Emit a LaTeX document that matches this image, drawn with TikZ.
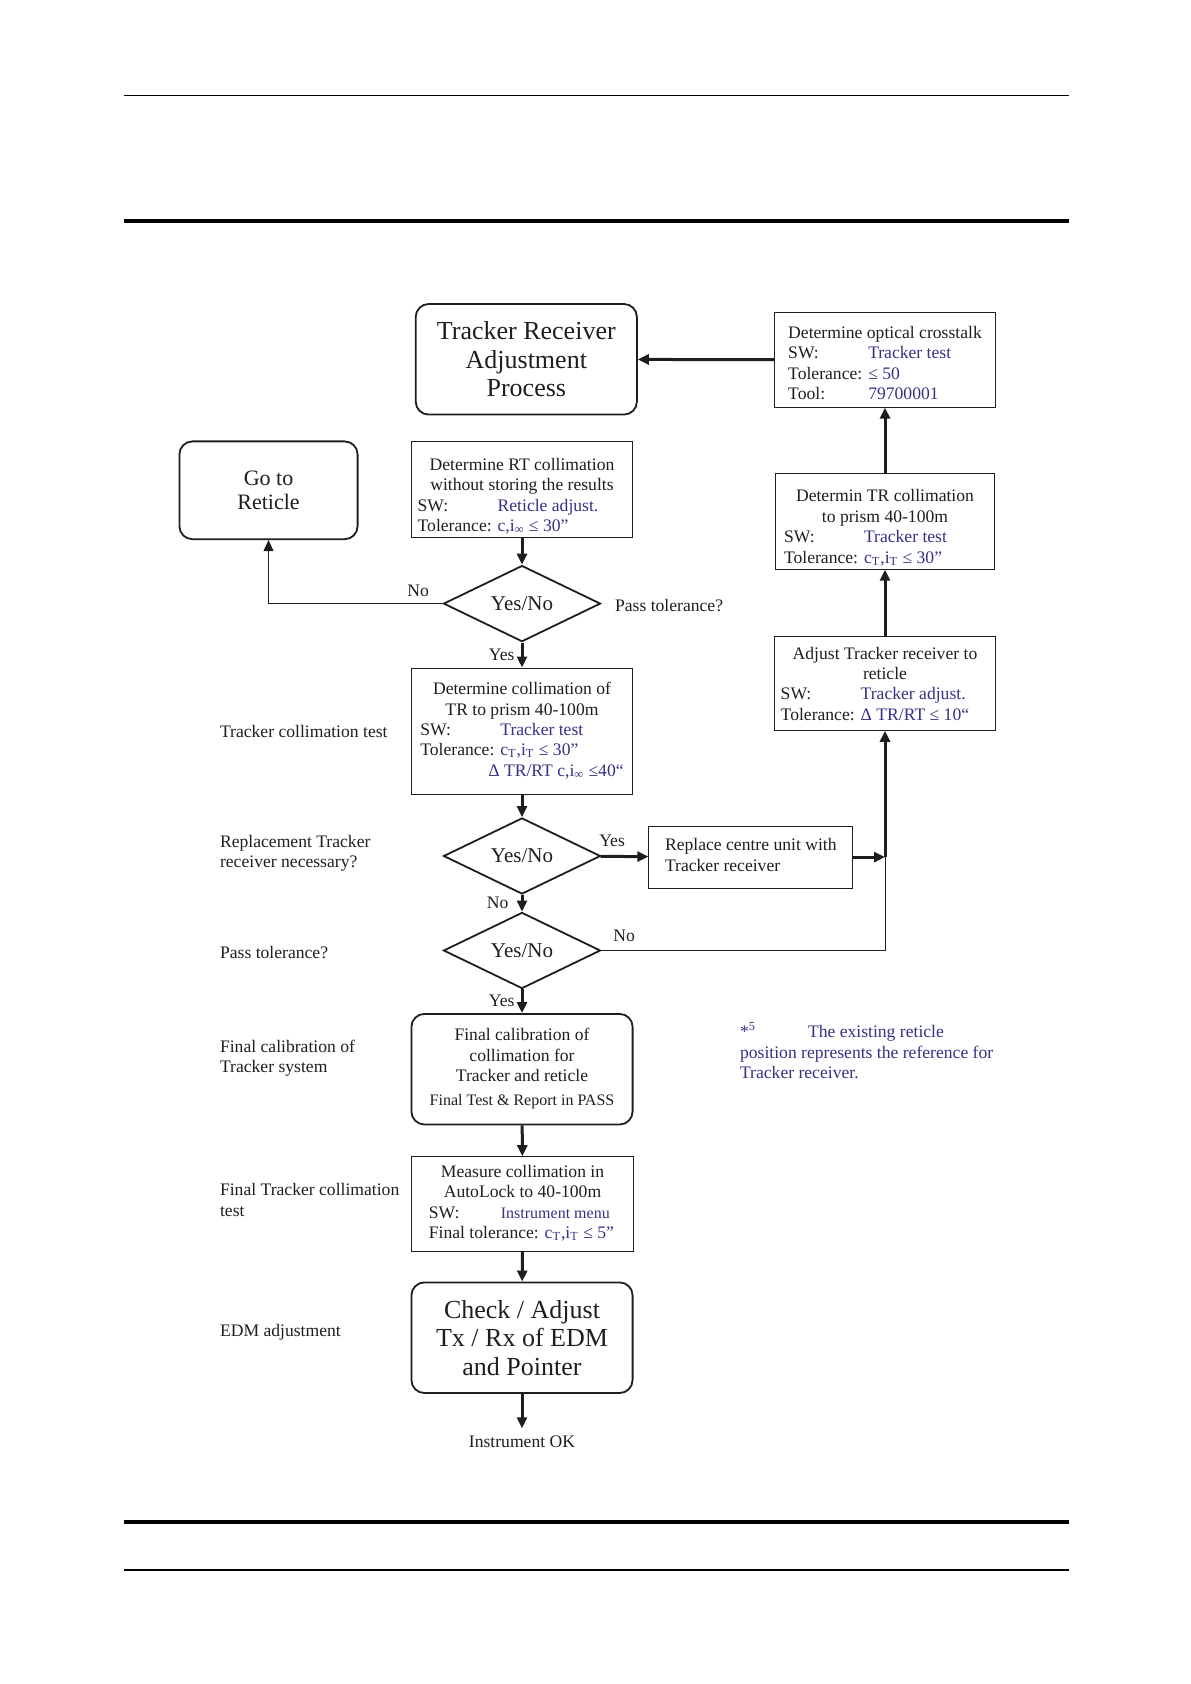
\documentclass[tikz,border=0pt]{standalone}
\usepackage{fontspec}
\setmainfont{Liberation Serif}
\usetikzlibrary{shapes.geometric,arrows.meta}

\definecolor{ink}{RGB}{30,30,30}
\definecolor{swblue}{RGB}{50,50,135}
\newcommand\bodyfont{\fontsize{8.8}{10.2}\selectfont}
\newcommand\bigfont{\fontsize{13}{14.2}\selectfont}
\newcommand\bl[1]{\textcolor{swblue}{#1}}
\newcommand\lab[1]{\makebox[40pt][l]{#1}}
\newcommand\ctr[1]{\multicolumn{1}{c}{#1}}
\newcommand\cT{c\textsubscript{T},i\textsubscript{T}}
% tabular with some extra room on top, so the lines sit a bit lower
\newcommand\boxtext[2]{\raisebox{0pt}[\dimexpr\height+#1\relax][\depth]{\begin{tabular}{@{}l@{}}#2\end{tabular}}}

\begin{document}
\begin{tikzpicture}[x=0.5pt,y=-0.5pt,
    every node/.style={font=\bodyfont,text=ink},
    box/.style={draw=ink,line width=0.5pt,inner sep=0pt,minimum width=110.6pt},
    rbox/.style={draw=ink,line width=0.9pt,rounded corners=6.5pt,inner sep=0pt,minimum width=110.6pt},
    decision/.style={diamond,draw=ink,line width=0.9pt,inner sep=0pt,minimum width=78.5pt,minimum height=31pt,font=\fontsize{10.5}{12}\selectfont},
    flow/.style={draw=ink,line width=1.5pt,-{Triangle[length=5.5pt,width=5pt]}},
    noline/.style={draw=ink,line width=0.5pt},
    lbl/.style={inner sep=1pt}]
	\useasboundingbox (0,0) rectangle (1190,1684);
	% page rules
	\draw[line width=0.8pt] (123.5,95.6) -- (1068.6,95.6);
	\draw[line width=2pt] (123.5,221.2) -- (1068.6,221.2);
	\draw[line width=2pt] (123.5,1521.9) -- (1068.6,1521.9);
	\draw[line width=0.8pt] (123.5,1570.2) -- (1068.6,1570.2);
	% main column
	\node[rbox,minimum height=55.3pt,font=\bigfont,align=center] (title) at (526.3,359.3) {Tracker Receiver\\Adjustment\\Process};
	\node[rbox,minimum width=89.1pt,minimum height=48.9pt,font=\fontsize{11}{12.4}\selectfont,align=center] (goto) at (268.5,490.3) {Go to\\Reticle};
	\node[box,minimum height=47.3pt] (rtcol) at (522,489.8) {\boxtext{7pt}{\ctr{Determine RT collimation}\\ \ctr{without storing the results}\\ \lab{SW:}\bl{Reticle adjust.}\\ \lab{Tolerance:}\bl{c,i\textsubscript{∞} ≤ 30”}}};
	\node[decision] (d1) at (522,603.6) {Yes/No};
	\node[anchor=west] (passq) at (608,605.7) {Pass tolerance?};
	\node[box,minimum height=63.4pt] (tcoll) at (522,731.4) {\boxtext{0pt}{\ctr{Determine collimation of}\\ \ctr{TR to prism 40-100m}\\ \lab{SW:}\bl{Tracker test}\\ \lab{Tolerance:}\bl{\cT{} ≤ 30”}\\ \hspace*{34pt}\bl{Δ TR/RT c,i\textsubscript{∞} ≤40“}}};
	\node[decision] (d2) at (522,856) {Yes/No};
	\node[box,minimum width=102pt,minimum height=31.1pt] (repl) at (750.8,857.1) {\boxtext{0pt}{Replace centre unit with\\Tracker receiver}};
	\node[decision] (d3) at (522,950.5) {Yes/No};
	\node[rbox,minimum height=55.3pt] (final) at (522,1069.2) {\begin{tabular}{@{}c@{}}Final calibration of\\collimation for\\Tracker and reticle\\[2pt]{\fontsize{8}{9.5}\selectfont Final Test \& Report in PASS}\end{tabular}};
	\node[box,minimum height=47.3pt] (meas) at (522.5,1204) {\boxtext{0pt}{\ctr{Measure collimation in}\\ \ctr{AutoLock to 40-100m}\\ \makebox[36pt][l]{SW:}\bl{\fontsize{8}{10}\selectfont Instrument menu}\\ Final tolerance: \bl{\cT{} ≤ 5”}}};
	\node[rbox,minimum height=55.3pt,font=\bigfont,align=center] (check) at (522,1337.7) {Check / Adjust\\Tx / Rx of EDM\\and Pointer};
	\node (ok) at (522,1441.3) {Instrument OK};
	% right column
	\node[box,minimum height=47.3pt] (ctalk) at (885,359.8) {\boxtext{5pt}{Determine optical crosstalk\\ \lab{SW:}\bl{Tracker test}\\ \lab{Tolerance:}\bl{≤ 50}\\ \lab{Tool:}\bl{79700001}}};
	\node[box,minimum width=109.5pt,minimum height=46.7pt] (trcol) at (885,521.4) {\boxtext{7pt}{\ctr{Determin TR collimation}\\ \ctr{to prism 40-100m}\\ \lab{SW:}\bl{Tracker test}\\ \lab{Tolerance:}\bl{\cT{} ≤ 30”}}};
	\node[box,minimum height=46.7pt] (adj) at (885,683.6) {\boxtext{2pt}{\ctr{Adjust Tracker receiver to}\\ \ctr{reticle}\\ \lab{SW:}\bl{Tracker adjust.}\\ \lab{Tolerance:}\bl{Δ TR/RT ≤ 10“}}};
	% side labels
	\node[anchor=west] (lcoll) at (213,731.4) {Tracker collimation test};
	\node[anchor=west,align=left] (lrepl) at (213,853.3) {Replacement Tracker\\receiver necessary?};
	\node[anchor=west] (lpass) at (213,952.6) {Pass tolerance?};
	\node[anchor=west,align=left] (lfinal) at (213,1057.9) {Final calibration of\\Tracker system};
	\node[anchor=west,align=left] (lmeas) at (213,1200) {Final Tracker collimation\\test};
	\node[anchor=west] (ledm) at (213,1331.8) {EDM adjustment};
	\node[anchor=north west,align=left,text=swblue] (note) at (733,1015) {*\textsuperscript{5}\hspace{26pt}The existing reticle\\position represents the reference for\\Tracker receiver.};
	% connectors
	\draw[flow] (ctalk) -- (title);
	\draw[flow] (rtcol) -- (d1);
	\draw[noline,-{Triangle[length=5.5pt,width=5pt]}] (d1) -| (goto) node[pos=0.07,above=2pt,lbl]{No};
	\draw[flow] (d1) -- (tcoll) node[midway,left=2pt,lbl]{Yes};
	\draw[flow] (tcoll) -- (d2);
	\draw[flow] (d2) -- (repl) node[pos=0.24,above=3pt,lbl]{Yes};
	\draw[flow] (d2) -- (d3) node[midway,left=5pt,lbl]{No};
	\draw[flow] (d3) -- (final) node[midway,left=2pt,lbl]{Yes};
	\draw[flow] (final) -- (meas);
	\draw[flow] (meas) -- (check);
	\draw[flow] (check) -- (ok);
	% back to the tracker receiver
	\coordinate (join) at (adj.south |- repl.east);
	\draw[noline] (d3) -| (join) node[pos=0.04,above=3pt,lbl]{No};
	\draw[flow] (repl) -- (join);
	\draw[flow] (join) -- (adj);
	\draw[flow] (adj) -- (trcol);
	\draw[flow] (trcol) -- (ctalk);
\end{tikzpicture}
\end{document}
